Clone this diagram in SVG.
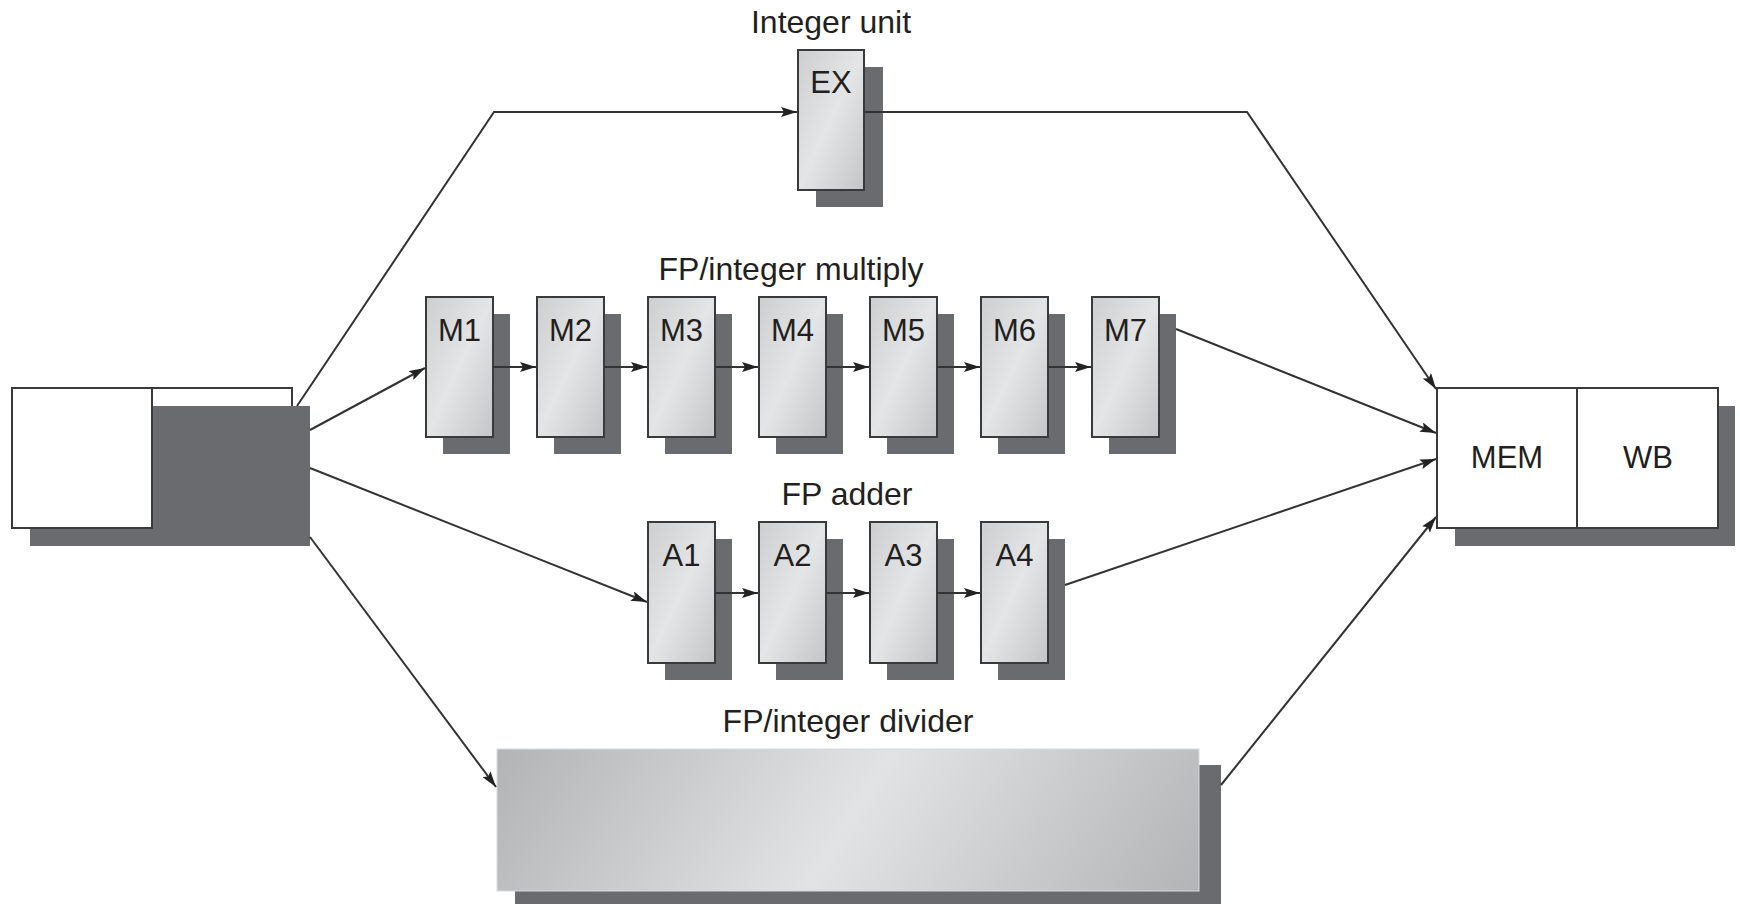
<svg xmlns="http://www.w3.org/2000/svg" width="1740" height="904" viewBox="0 0 1740 904">
<style>
.shadow{fill:#6a6b6f}
.box{stroke:#3a3a3c;stroke-width:2;fill:url(#g)}
.plain{stroke:#3a3a3c;stroke-width:2;fill:#fff}
.lbl{font-family:"Liberation Sans",Arial,sans-serif;font-size:31px;fill:#231f20;text-anchor:middle}
.ttl{font-family:"Liberation Sans",Arial,sans-serif;font-size:32px;fill:#231f20;text-anchor:middle}
.conn{fill:none;stroke:#333;stroke-width:2}
</style>
<defs>
<linearGradient id="g" x1="0" y1="0" x2="1" y2="1">
<stop offset="0" stop-color="#cdced0"/>
<stop offset="0.5" stop-color="#e4e5e7"/>
<stop offset="1" stop-color="#c4c5c7"/>
</linearGradient>
<linearGradient id="gd" gradientUnits="userSpaceOnUse" x1="560" y1="640" x2="1140" y2="1000">
<stop offset="0" stop-color="#b2b3b5"/>
<stop offset="0.5" stop-color="#e2e3e5"/>
<stop offset="1" stop-color="#b2b3b5"/>
</linearGradient>
<marker id="ah" markerUnits="userSpaceOnUse" markerWidth="16" markerHeight="10" refX="16" refY="5" orient="auto">
<path d="M0,0 L16,5 L0,10 L3,5 Z" fill="#222"/>
</marker>
</defs>

<g id="issue">
<rect class="plain" x="12" y="388" width="280" height="140"/>
<rect class="shadow" x="30" y="406" width="280" height="140"/>
<rect class="plain" x="12" y="388" width="140" height="140"/>
</g>

<g id="integer-unit">
<text class="ttl" x="831" y="33">Integer unit</text>
<rect class="shadow" x="816" y="67" width="67" height="140"/>
<rect class="box" x="798" y="50" width="66" height="140"/>
<text class="lbl" x="831" y="93">EX</text>
</g>

<g id="fp-multiply">
<text class="ttl" x="791" y="280">FP/integer multiply</text>
</g>
<g id="M1"><rect class="shadow" x="443" y="314" width="67" height="140"/><rect class="box" x="426" y="297" width="67" height="140"/><text class="lbl" x="459.5" y="341">M1</text></g>
<g id="M2"><rect class="shadow" x="554" y="314" width="67" height="140"/><rect class="box" x="537" y="297" width="67" height="140"/><text class="lbl" x="570.5" y="341">M2</text></g>
<g id="M3"><rect class="shadow" x="665" y="314" width="67" height="140"/><rect class="box" x="648" y="297" width="67" height="140"/><text class="lbl" x="681.5" y="341">M3</text></g>
<g id="M4"><rect class="shadow" x="776" y="314" width="67" height="140"/><rect class="box" x="759" y="297" width="67" height="140"/><text class="lbl" x="792.5" y="341">M4</text></g>
<g id="M5"><rect class="shadow" x="887" y="314" width="67" height="140"/><rect class="box" x="870" y="297" width="67" height="140"/><text class="lbl" x="903.5" y="341">M5</text></g>
<g id="M6"><rect class="shadow" x="998" y="314" width="67" height="140"/><rect class="box" x="981" y="297" width="67" height="140"/><text class="lbl" x="1014.5" y="341">M6</text></g>
<g id="M7"><rect class="shadow" x="1109" y="314" width="67" height="140"/><rect class="box" x="1092" y="297" width="67" height="140"/><text class="lbl" x="1125.5" y="341">M7</text></g>

<g id="fp-adder">
<text class="ttl" x="847" y="505">FP adder</text>
</g>
<g id="A1"><rect class="shadow" x="665" y="539" width="67" height="141"/><rect class="box" x="648" y="522" width="67" height="141"/><text class="lbl" x="681.5" y="566">A1</text></g>
<g id="A2"><rect class="shadow" x="776" y="539" width="67" height="141"/><rect class="box" x="759" y="522" width="67" height="141"/><text class="lbl" x="792.5" y="566">A2</text></g>
<g id="A3"><rect class="shadow" x="887" y="539" width="67" height="141"/><rect class="box" x="870" y="522" width="67" height="141"/><text class="lbl" x="903.5" y="566">A3</text></g>
<g id="A4"><rect class="shadow" x="998" y="539" width="67" height="141"/><rect class="box" x="981" y="522" width="67" height="141"/><text class="lbl" x="1014.5" y="566">A4</text></g>

<g id="divider">
<text class="ttl" x="848" y="732">FP/integer divider</text>
<rect class="shadow" x="515" y="765" width="706" height="145"/>
<rect x="497" y="749" width="702" height="142" fill="url(#gd)" stroke="#d8d9db" stroke-width="1"/>
</g>

<g id="mem-wb">
<rect class="shadow" x="1455" y="406" width="280" height="140"/>
<rect class="plain" x="1437" y="388" width="281" height="140"/>
<line x1="1577" y1="388" x2="1577" y2="528" stroke="#3a3a3c" stroke-width="2"/>
<text class="lbl" x="1507" y="468">MEM</text>
<text class="lbl" x="1648" y="468">WB</text>
</g>

<g id="connectors">
<polyline class="conn" points="297,406 494,112 797,112" marker-end="url(#ah)"/>
<polyline class="conn" points="864,112 1247,112 1436,389" marker-end="url(#ah)"/>
<line class="conn" x1="310" y1="430" x2="425" y2="368" marker-end="url(#ah)"/>
<line class="conn" x1="493" y1="367" x2="536" y2="367" marker-end="url(#ah)"/>
<line class="conn" x1="604" y1="367" x2="647" y2="367" marker-end="url(#ah)"/>
<line class="conn" x1="715" y1="367" x2="758" y2="367" marker-end="url(#ah)"/>
<line class="conn" x1="826" y1="367" x2="869" y2="367" marker-end="url(#ah)"/>
<line class="conn" x1="937" y1="367" x2="980" y2="367" marker-end="url(#ah)"/>
<line class="conn" x1="1048" y1="367" x2="1091" y2="367" marker-end="url(#ah)"/>
<line class="conn" x1="1176" y1="329" x2="1436" y2="433" marker-end="url(#ah)"/>
<line class="conn" x1="310" y1="468" x2="647" y2="602" marker-end="url(#ah)"/>
<line class="conn" x1="715" y1="593" x2="758" y2="593" marker-end="url(#ah)"/>
<line class="conn" x1="826" y1="593" x2="869" y2="593" marker-end="url(#ah)"/>
<line class="conn" x1="937" y1="593" x2="980" y2="593" marker-end="url(#ah)"/>
<line class="conn" x1="1065" y1="585" x2="1436" y2="459" marker-end="url(#ah)"/>
<line class="conn" x1="310" y1="537" x2="496" y2="787" marker-end="url(#ah)"/>
<line class="conn" x1="1221" y1="785" x2="1436" y2="517" marker-end="url(#ah)"/>
</g>
</svg>
